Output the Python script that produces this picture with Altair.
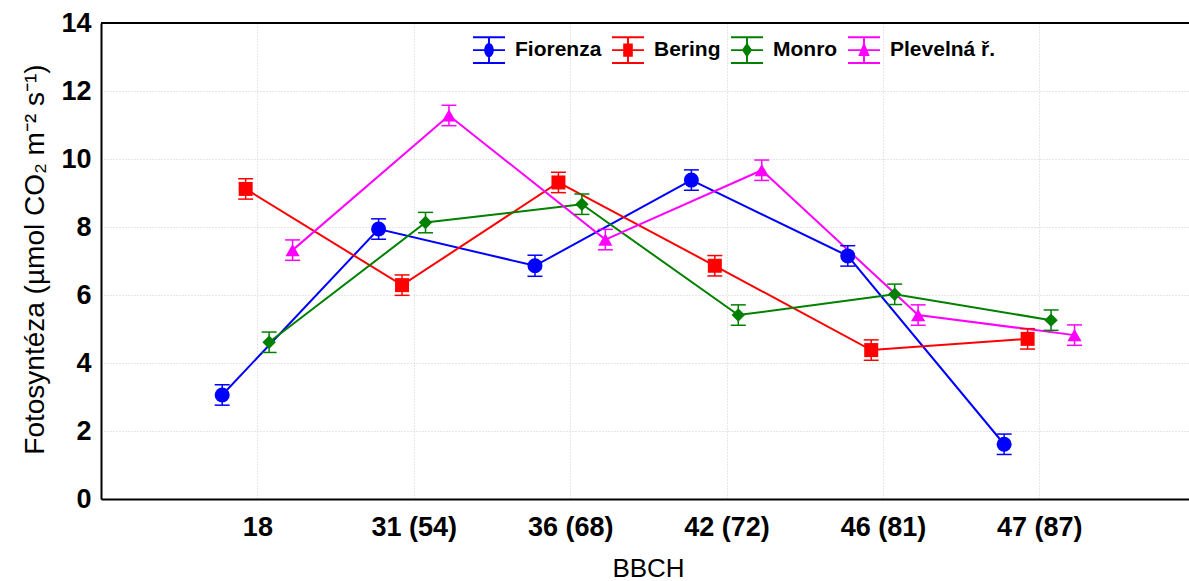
import altair as alt
import pandas as pd

# Growth stages (BBCH) on the x axis
categories = ["18", "31 (54)", "36 (68)", "42 (72)", "46 (81)", "47 (87)"]
series = ["Fiorenza", "Bering", "Monro", "Plevelná ř."]
colors = ["#0000ff", "#ff0000", "#008000", "#ff00ff"]

# Mean photosynthesis rate per stage and its standard error
fiorenza = [3.06, 7.94, 6.86, 9.38, 7.15, 1.61]
bering = [9.12, 6.29, 9.31, 6.86, 4.38, 4.71]
monro = [4.61, 8.13, 8.67, 5.41, 6.02, 5.26]
plevelna = [7.32, 11.28, 7.63, 9.67, 5.41, 4.82]

fiorenza_se = [0.30, 0.30, 0.31, 0.30, 0.30, 0.30]
bering_se = [0.30, 0.30, 0.30, 0.30, 0.30, 0.30]
monro_se = [0.30, 0.30, 0.30, 0.30, 0.30, 0.30]
plevelna_se = [0.30, 0.30, 0.30, 0.30, 0.30, 0.30]

means = [fiorenza, bering, monro, plevelna]
errors = [fiorenza_se, bering_se, monro_se, plevelna_se]

# Series are dodged side by side around each stage
DODGE = 0.15
rows = []
for k, name in enumerate(series):
    for i, cat in enumerate(categories):
        v = means[k][i]
        e = errors[k][i]
        rows.append({
            "series": name,
            "stage": cat,
            "pos": i + 1 + (k - 1.5) * DODGE,
            "y": v,
            "lo": v - e,
            "hi": v + e,
        })
df = pd.DataFrame(rows)

FONT = "Liberation Sans"
label_expr = "[" + ",".join(f"'{c}'" for c in categories) + "][datum.value - 1]"

x_scale = alt.Scale(domain=[0, 6.957], nice=False, zero=False)
y_scale = alt.Scale(domain=[0, 14], nice=False)

grid_style = dict(grid=True, gridColor="#cfcfcf", gridDash=[1, 2], gridWidth=1)

x_enc = alt.X(
    "pos:Q",
    scale=x_scale,
    axis=alt.Axis(
        values=list(range(1, len(categories) + 1)),
        labelExpr=label_expr,
        title="BBCH",
        titleX=547,
        titleY=56,
        titleAlign="center",
        titleBaseline="top",
        titleFont=FONT,
        titleFontSize=26,
        titleFontWeight="normal",
        titleColor="black",
        labelFont=FONT,
        labelFontSize=27,
        labelFontWeight="bold",
        labelColor="black",
        labelPadding=15,
        ticks=False,
        domainColor="black",
        domainWidth=2,
        **grid_style,
    ),
)
y_enc = alt.Y(
    "y:Q",
    scale=y_scale,
    axis=alt.Axis(
        values=list(range(0, 15, 2)),
        title="Fotosyntéza (µmol CO₂ m⁻² s⁻¹)",
        titleX=-58,
        titleY=236,
        titleAngle=270,
        titleAlign="center",
        titleBaseline="alphabetic",
        titleFont=FONT,
        titleFontSize=28,
        titleFontWeight="normal",
        titleColor="black",
        labelFont=FONT,
        labelFontSize=27,
        labelFontWeight="bold",
        labelColor="black",
        labelPadding=10,
        ticks=False,
        domainColor="black",
        domainWidth=2,
        **grid_style,
    ),
)

base = alt.Chart(df)

marker_shapes = ["circle", "square", "diamond", "triangle-up"]
marker_sizes = [225, 196, 180, 200]

line_layers, bar_layers, point_layers = [], [], []
for k, (name, col, shp, sz) in enumerate(zip(series, colors, marker_shapes, marker_sizes)):
    sub = base.transform_filter(alt.datum.series == name)
    if k == 0:
        xe, ye = x_enc, y_enc
    else:
        xe, ye = alt.X("pos:Q"), alt.Y("y:Q")
    line_layers.append(
        sub.mark_line(strokeWidth=2, color=col).encode(x=xe, y=ye, order="pos:Q")
    )
    bar_layers.append(
        sub.mark_rule(strokeWidth=1.5, color=col).encode(x="pos:Q", y="lo:Q", y2="hi:Q")
    )
    bar_layers.append(
        sub.mark_tick(orient="horizontal", size=15, thickness=1.5, opacity=1, color=col)
        .encode(x="pos:Q", y="lo:Q")
    )
    bar_layers.append(
        sub.mark_tick(orient="horizontal", size=15, thickness=1.5, opacity=1, color=col)
        .encode(x="pos:Q", y="hi:Q")
    )
    point_layers.append(
        sub.mark_point(filled=True, opacity=1, shape=shp, size=sz, color=col)
        .encode(x="pos:Q", y="y:Q")
    )

# Legend symbols: line with error bar and marker, built from filled sub-paths
bar_glyph = (
    "M-1,-0.06H1V0.06H-1Z"
    "M-1,-0.86H1V-0.74H-1Z"
    "M-1,0.74H1V0.86H-1Z"
    "M-0.06,-0.8H0.06V0.8H-0.06Z"
)
legend_paths = [
    bar_glyph + "M-0.3,0A0.3,0.45 0 1,1 0.3,0A0.3,0.45 0 1,1 -0.3,0Z",
    bar_glyph + "M-0.3,-0.42H0.3V0.42H-0.3Z",
    bar_glyph + "M0,-0.46L0.32,0L0,0.46L-0.32,0Z",
    bar_glyph + "M0,-0.5L0.36,0.36L-0.36,0.36Z",
]

legend = alt.Legend(
    title=None,
    orient="none",
    legendX=372,
    legendY=11,
    direction="horizontal",
    labelFont=FONT,
    labelFontSize=21,
    labelFontWeight="bold",
    labelColor="black",
    labelOffset=10,
    columnPadding=10,
    symbolSize=1024,
    symbolStrokeWidth=0,
    symbolOpacity=1,
    padding=0,
    labelLimit=300,
)

# Legend carrier: no rows reach it, the scales keep their explicit domains
legend_layer = (
    base.transform_filter("false")
    .mark_point(filled=True, opacity=1)
    .encode(
        x="pos:Q",
        y="y:Q",
        fill=alt.Fill("series:N", scale=alt.Scale(domain=series, range=colors), legend=legend),
        shape=alt.Shape("series:N", scale=alt.Scale(domain=series, range=legend_paths), legend=legend),
    )
)

frame_top = alt.Chart(pd.DataFrame({"y": [14]})).mark_rule(color="black", strokeWidth=2).encode(
    y=alt.Y("y:Q", scale=y_scale)
)

chart = (
    alt.layer(*line_layers, *bar_layers, *point_layers, legend_layer, frame_top)
    .properties(
        width=1088,
        height=476,
        autosize=alt.AutoSizeParams(type="none"),
        padding={"left": 101, "top": 23, "right": 0, "bottom": 82},
        background="white",
    )
    .configure_view(stroke=None)
)

chart.save("out.html", embed_options={"renderer": "svg", "actions": False})
